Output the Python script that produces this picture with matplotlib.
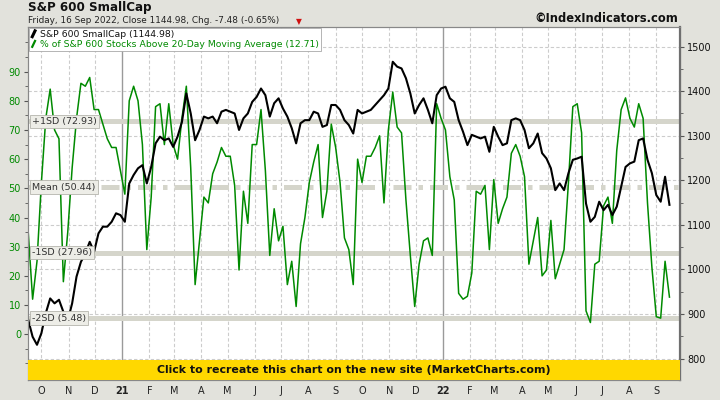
import matplotlib
matplotlib.use('Agg')
import matplotlib.pyplot as plt
import matplotlib.transforms as mtransforms
from matplotlib.lines import Line2D
from matplotlib.patches import Rectangle
from matplotlib.legend_handler import HandlerBase
import pandas as pd

plt.rcParams['font.family'] = ['DejaVu Sans']

# readings taken every 5 calendar days, 16 Sep 2020 .. 16 Sep 2022
dates = pd.date_range('2020-09-16', '2022-09-16', freq='5D')

# S&P 600 SmallCap close (right axis)
sml = [887, 849, 831, 857, 902, 935, 924, 932, 905, 885,
       924, 984, 1017, 1036, 1062, 1040, 1081, 1096, 1096, 1107,
       1126, 1122, 1107, 1193, 1212, 1227, 1234, 1193, 1230, 1283,
       1298, 1290, 1294, 1275, 1298, 1331, 1395, 1350, 1290, 1313,
       1343, 1339, 1343, 1328, 1354, 1358, 1354, 1350, 1313, 1339,
       1350, 1376, 1387, 1406, 1391, 1343, 1373, 1384, 1361, 1343,
       1317, 1283, 1328, 1335, 1335, 1354, 1350, 1320, 1324, 1369,
       1369, 1358, 1335, 1324, 1305, 1358, 1350, 1354, 1358, 1369,
       1380, 1391, 1406, 1466, 1455, 1451, 1429, 1395, 1350, 1369,
       1384, 1358, 1328, 1391, 1406, 1410, 1384, 1376, 1335, 1309,
       1279, 1302, 1298, 1294, 1298, 1264, 1320, 1298, 1279, 1283,
       1335, 1339, 1335, 1313, 1272, 1283, 1305, 1261, 1249, 1227,
       1178, 1193, 1178, 1216, 1246, 1249, 1253, 1148, 1107, 1118,
       1152, 1133, 1145, 1122, 1141, 1186, 1230, 1238, 1242, 1290,
       1294, 1246, 1216, 1167, 1152, 1208, 1145]

# % of S&P 600 stocks above 20-day moving average (left axis)
pct = [35, 12, 25, 52, 74, 84, 70, 67, 18, 35,
       57, 74, 86, 85, 88, 77, 77, 72, 67, 64,
       64, 56, 48, 80, 85, 80, 65, 29, 47, 78,
       79, 65, 79, 65, 60, 74, 85, 57, 17, 32,
       47, 45, 55, 59, 64, 61, 61, 51, 22, 49,
       38, 65, 65, 77, 56, 27, 43, 32, 37, 17,
       25, 9.5, 31, 40, 52, 59, 65, 40, 49, 72,
       64, 52, 33, 29, 17, 60, 52, 61, 61, 64,
       68, 45, 70, 83, 71, 69, 46, 27, 9.5, 24,
       32, 33, 27, 79, 74, 70, 54, 46, 14, 12,
       13, 21, 49, 48, 51, 29, 53, 38, 43, 47,
       62, 65, 61, 54, 24, 32, 40, 20, 22, 39,
       19, 24, 29, 52, 78, 79, 69, 8, 4, 24,
       25, 44, 47, 38, 63, 77, 81, 74, 71, 79,
       74, 45, 23, 6, 5.5, 25, 12.71]

sd_vals = [72.93, 50.44, 27.96, 5.48]
sd_names = ['+1SD', 'Mean', '-1SD', '-2SD']

pct_ticks = list(range(0, 100, 10))
sml_ticks = list(range(800, 1600, 100))

GREEN = '#008a00'
BAND = '#d5d5cb'


class Slant(HandlerBase):
    # short slanted stroke like the original legend swatches
    def create_artists(self, legend, orig, xd, yd, w, h, fontsize, trans):
        ln = Line2D([0.2 * w, 0.8 * w], [0.05 * h, 0.95 * h], color=orig.get_color(),
                    lw=orig.get_linewidth(), transform=trans)
        return [ln]


fig = plt.figure(figsize=(7.2, 4.0), dpi=100)
fig.patch.set_facecolor('#e2e2dc')

# plot box in pixel terms: x 28..680, y 27..380
ax = fig.add_axes([28/720, 20/400, 652/720, 353/400])
ax2 = ax.twinx()
ax.set_facecolor('white')

ax.set_xlim(pd.Timestamp('2020-09-15 18:00'), pd.Timestamp('2022-09-28'))
ax.set_ylim(-15.7, 105.3)
ax2.set_ylim(752, 1544)

# month grid
months = pd.date_range('2020-10-01', '2022-09-01', freq='MS')
for m in months:
    if m.month == 1:
        ax.axvline(m, color='#9a9a9a', lw=1.0, zorder=0.5)
    else:
        ax.axvline(m, color='#cccccc', lw=0.8, ls=(0, (3, 2)), zorder=0.5)

# horizontal grid follows the right axis
trans = mtransforms.blended_transform_factory(ax.transAxes, ax2.transData)
for p in sml_ticks:
    ax.add_line(Line2D([0, 1], [p, p], transform=trans, color='#cccccc',
                       lw=0.8, ls=(0, (3, 2)), zorder=0.5))

# SD bands
for v, nm in zip(sd_vals, sd_names):
    ln = ax.axhline(v, color=BAND, lw=3.6, zorder=1)
    if nm == 'Mean':
        ln.set_dashes((3.6, 1.4, 0.9, 1.4))

ax.plot(dates, pct, color=GREEN, lw=1.1, zorder=2)
ax2.plot(dates, sml, color='black', lw=1.5, zorder=2)

lbl_tr = mtransforms.blended_transform_factory(ax.transAxes, ax.transData)
for v, nm in zip(sd_vals, sd_names):
    ax2.text(0.006, v, '%s (%.2f)' % (nm, v), transform=lbl_tr,
             fontsize=6.8, color='#333333', va='center', ha='left', zorder=6,
             bbox=dict(boxstyle='square,pad=0.25', facecolor='#edede7', edgecolor='#b5b5ad', lw=0.6))

# left axis
ax.set_yticks(pct_ticks)
ax.set_yticks(range(-10, 105, 5), minor=True)
ax.tick_params(axis='y', which='major', labelsize=7, labelcolor=GREEN, length=3, color='#555555', pad=2)
ax.tick_params(axis='y', which='minor', length=2, color='#555555')

# right axis
ax2.set_yticks(sml_ticks)
ax2.set_yticks(range(800, 1550, 50), minor=True)
ax2.tick_params(axis='y', which='major', labelsize=7, labelcolor='#111111', length=3, color='#555555', pad=2)
ax2.tick_params(axis='y', which='minor', length=2, color='#555555')

# bottom month letters
ax.set_xticks(months)
labels = [m.strftime('%y') if m.month == 1 else m.strftime('%b')[0] for m in months]
ax.set_xticklabels(labels)
ax.tick_params(axis='x', length=0, labelsize=7, pad=4, labelcolor='#222222')
for t, m in zip(ax.get_xticklabels(), months):
    if m.month == 1:
        t.set_fontweight('bold')
ax2.tick_params(axis='x', length=0)

for a in (ax, ax2):
    for s in a.spines.values():
        s.set_color('#888888')
        s.set_linewidth(0.8)
ax2.spines['right'].set_color('#6f6f6f')
ax2.spines['right'].set_linewidth(1.6)

# yellow banner
ax2.add_patch(Rectangle((0, 0), 1, 20/353, transform=ax2.transAxes,
                        facecolor='#ffd800', edgecolor='none', zorder=8))
ax2.text(0.5, 10/353, 'Click to recreate this chart on the new site (MarketCharts.com)',
         transform=ax2.transAxes, ha='center', va='center', fontsize=7.9,
         fontweight='bold', color='#111111', zorder=9)

# legend
handles = [Line2D([], [], color='black', lw=2.2), Line2D([], [], color=GREEN, lw=1.6)]
leg = ax2.legend(handles, ['S&P 600 SmallCap (1144.98)',
                           '% of S&P 600 Stocks Above 20-Day Moving Average (12.71)'],
                 handler_map={Line2D: Slant()},
                 loc='upper left', bbox_to_anchor=(0.0015, 0.998), borderaxespad=0,
                 fontsize=6.7, handlelength=0.5, handletextpad=0.4, labelspacing=0.12,
                 borderpad=0.25, fancybox=False, edgecolor='#a8a8a8', framealpha=1)
leg.get_frame().set_linewidth(0.6)
leg.set_zorder(10)
leg.get_texts()[0].set_color('#111111')
leg.get_texts()[1].set_color(GREEN)

# header
fig.text(28/720, 1 - 8/400, 'S&P 600 SmallCap', fontsize=8.6, fontweight='bold',
         color='#111111', va='center', ha='left')
fig.text(28/720, 1 - 20.5/400, 'Friday, 16 Sep 2022, Close 1144.98, Chg. -7.48 (-0.65%)',
         fontsize=6.4, color='#222222', va='center', ha='left')
fig.text(299/720, 1 - 21.5/400, '\u25bc', fontsize=5.5, color='#d01010', va='center', ha='center')
fig.text(678/720, 1 - 19/400, '\u00a9IndexIndicators.com', fontsize=8.3, fontweight='bold',
         color='#111111', va='center', ha='right')

fig.savefig('out.png', dpi=100, facecolor=fig.get_facecolor())
